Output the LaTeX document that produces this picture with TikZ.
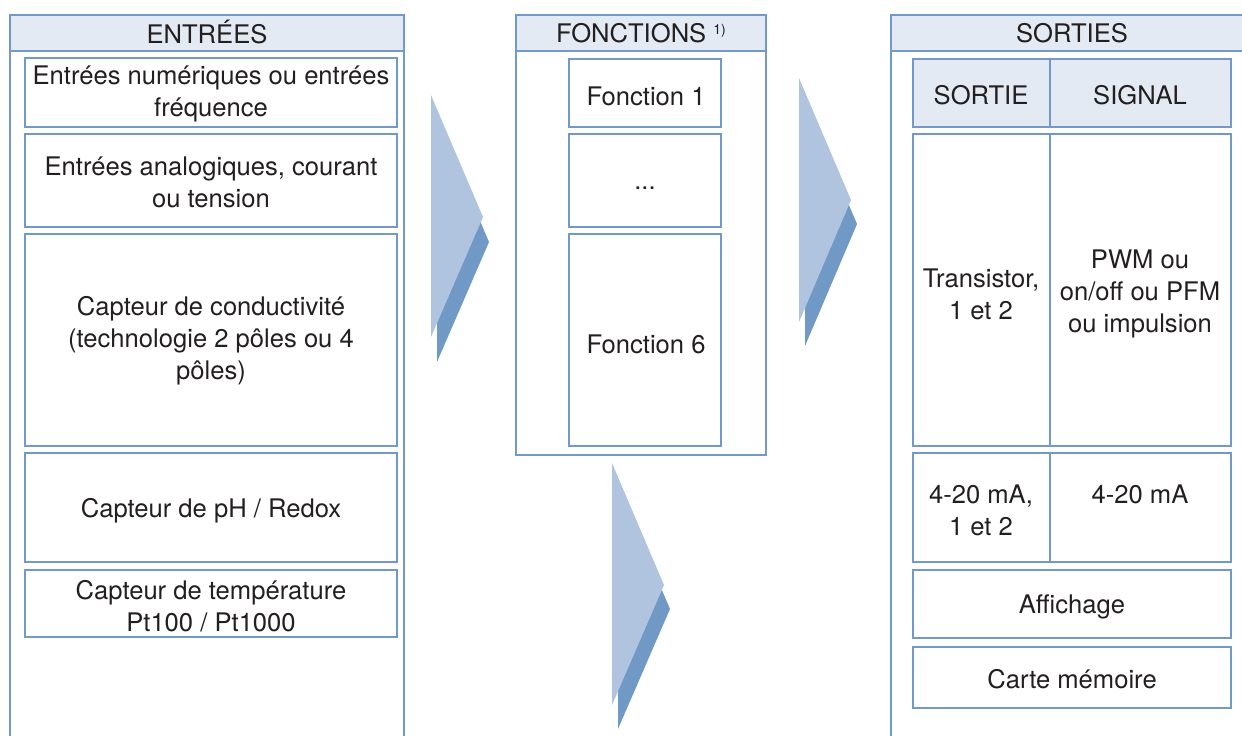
\documentclass[tikz,border=0pt]{standalone}
\usepackage{fontspec}
\setmainfont{TeX Gyre Heros}
\definecolor{frameblue}{HTML}{7399C8}
\definecolor{headfill}{HTML}{E4EAF4}
\definecolor{arrowlight}{HTML}{B0C4E0}
\definecolor{arrowdark}{HTML}{7199C6}
\definecolor{txtgray}{HTML}{231F20}
\tikzset{
  frame/.style={draw=frameblue, line width=1.2pt},
  headcell/.style={frame, fill=headfill},
  lbl/.style={font=\fontsize{12.8}{16}\selectfont, text=txtgray, align=center, inner sep=0pt},
  chevlight/.style={fill=arrowlight, draw=none},
  chevdark/.style={fill=arrowdark, draw=none},
}
\begin{document}
\begin{tikzpicture}[x=0.5pt, y=-0.5pt]
  \useasboundingbox (0,0) rectangle (1242,735);
  \clip (0,0) rectangle (1242,735);
  \draw[frame] (10,15) rectangle (404,760);
  \draw[headcell] (10,15) rectangle (404,51);
  \draw[frame] (516,15) rectangle (766,455);
  \draw[headcell] (516,15) rectangle (766,51);
  \draw[frame] (891,15) rectangle (1260,760);
  \draw[headcell] (891,15) rectangle (1260,51);
  \node[lbl] (entrees) at (207,32) {ENTRÉES};
  \node[lbl] (fonctions) at (641,33) {FONCTIONS \raisebox{0.55ex}{\fontsize{7}{7}\selectfont 1)}};
  \node[lbl] (sorties) at (1072,33) {SORTIES};
  \draw[frame] (25,58) rectangle (397,127);
  \draw[frame] (25,134) rectangle (397,227);
  \draw[frame] (25,234) rectangle (397,446);
  \draw[frame] (25,453) rectangle (397,562);
  \draw[frame] (25,570) rectangle (397,637);
  \node[lbl] (numerique) at (211,94) {Entrées numériques ou entrées\\fréquence};
  \node[lbl] (analogique) at (211,182) {Entrées analogiques, courant\\ou tension};
  \node[lbl] (conduct) at (211,341) {Capteur de conductivité\\(technologie 2 pôles ou 4\\pôles)};
  \node[lbl] (ph) at (211,511) {Capteur de pH / Redox};
  \node[lbl] (temp) at (211,606) {Capteur de température\\Pt100 / Pt1000};
  \draw[frame] (569,59) rectangle (721,127);
  \draw[frame] (569,134) rectangle (721,227);
  \draw[frame] (569,234) rectangle (721,446);
  \node[lbl] (fonc1) at (646,96) {Fonction 1};
  \node[lbl] (foncdots) at (645,188) {...};
  \node[lbl] (fonc6) at (646,344) {Fonction 6};
  \draw[headcell] (913,59) rectangle (1231,127);
  \draw[frame] (1050,59) -- (1050,127);
  \draw[frame] (913,134) rectangle (1231,446);
  \draw[frame] (1050,134) -- (1050,446);
  \draw[frame] (913,453) rectangle (1231,562);
  \draw[frame] (1050,453) -- (1050,562);
  \draw[frame] (913,570) rectangle (1231,638);
  \draw[frame] (913,647) rectangle (1231,708);
  \node[lbl] (sortie) at (981,95) {SORTIE};
  \node[lbl] (signal) at (1140,95) {SIGNAL};
  \node[lbl] (transistor) at (981,294) {Transistor,\\1 et 2};
  \node[lbl] (pwm) at (1140,294) {PWM ou\\on/off ou PFM\\ou impulsion};
  \node[lbl] (courant) at (981,510) {4-20 mA,\\1 et 2};
  \node[lbl] (signalma) at (1140,494) {4-20 mA};
  \node[lbl] (affichage) at (1072,607) {Affichage};
  \node[lbl] (carte) at (1072,679) {Carte mémoire};
  \fill[chevdark] (437,120) -- (489,242) -- (437,362) -- cycle;
  \fill[chevlight] (431,95) -- (483,217) -- (431,337) -- cycle;
  \fill[chevdark] (805,102) -- (857,224) -- (805,346) -- cycle;
  \fill[chevlight] (799,78) -- (851,200) -- (799,322) -- cycle;
  \fill[chevdark] (618,487) -- (670,609) -- (618,729) -- cycle;
  \fill[chevlight] (612,463) -- (664,585) -- (612,705) -- cycle;
\end{tikzpicture}
\end{document}
